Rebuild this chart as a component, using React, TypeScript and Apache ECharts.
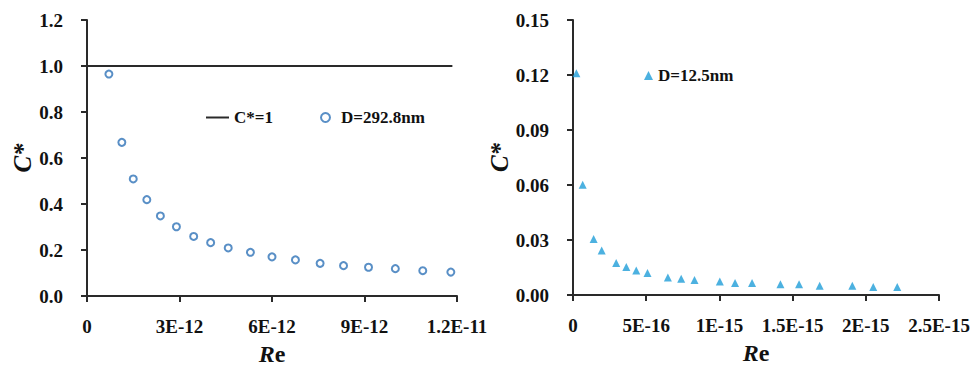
import React, { useEffect, useRef } from "react";
import * as echarts from "echarts";

// Left panel: D = 292.8 nm
const leftRe = [0.71e-12, 1.13e-12, 1.5e-12, 1.94e-12, 2.38e-12, 2.9e-12, 3.46e-12, 4.01e-12, 4.58e-12, 5.3e-12, 6.0e-12, 6.76e-12, 7.56e-12, 8.32e-12, 9.13e-12, 10.0e-12, 10.89e-12, 11.8e-12];
const leftC = [0.965, 0.668, 0.509, 0.419, 0.348, 0.301, 0.259, 0.232, 0.209, 0.19, 0.17, 0.157, 0.142, 0.132, 0.125, 0.119, 0.11, 0.104];
const refLineRe = [0, 1.185e-11];
const refLineC = [1, 1];
const leftXTicks = ["0", "3E-12", "6E-12", "9E-12", "1.2E-11"];

// Right panel: D = 12.5 nm
const rightRe = [2.3e-17, 6.6e-17, 1.41e-16, 1.96e-16, 2.95e-16, 3.64e-16, 4.32e-16, 5.09e-16, 6.48e-16, 7.39e-16, 8.3e-16, 10.03e-16, 11.07e-16, 12.23e-16, 14.17e-16, 15.44e-16, 16.85e-16, 19.08e-16, 20.51e-16, 22.15e-16];
const rightC = [0.1209, 0.0602, 0.0305, 0.0243, 0.0175, 0.0153, 0.0134, 0.012, 0.0096, 0.0089, 0.0082, 0.0073, 0.0065, 0.0065, 0.0058, 0.0058, 0.0051, 0.0051, 0.0044, 0.0044];
const rightXTicks = ["0", "5E-16", "1E-15", "1.5E-15", "2E-15", "2.5E-15"];

const FONT = "'Liberation Serif', serif";
const AX = "#2a2a2a";

const axisCommon = {
  axisLine: { show: true, lineStyle: { color: AX, width: 2 } },
  axisTick: { show: true, inside: false, length: 6, lineStyle: { color: AX, width: 2 } },
  splitLine: { show: false },
};

const labelStyle = { color: "#111", fontFamily: FONT, fontWeight: "bold" as const, fontSize: 19 };

const reName = {
  name: "{i|R}{n|e}",
  nameLocation: "middle" as const,
  nameGap: 46,
  nameTextStyle: {
    rich: {
      i: { fontFamily: FONT, fontStyle: "italic", fontWeight: "bold", fontSize: 24, color: "#111" },
      n: { fontFamily: FONT, fontWeight: "bold", fontSize: 24, color: "#111" },
    },
  },
};

const cName = (gap: number) => ({
  name: "C*",
  nameLocation: "middle" as const,
  nameRotate: 90,
  nameGap: gap,
  nameTextStyle: { fontFamily: FONT, fontStyle: "italic", fontWeight: "bold", fontSize: 25, color: "#111" },
});

export default function App() {
  const ref = useRef<HTMLDivElement>(null);
  useEffect(() => {
    if (!ref.current) return;
    const chart = echarts.init(ref.current, undefined, { renderer: "svg" });
    chart.setOption({
      animation: false,
      backgroundColor: "#ffffff",
      grid: [
        { left: 87, top: 20, width: 370, height: 276, outerBoundsMode: "none", containLabel: false },
        { left: 573, top: 20, width: 366, height: 275, outerBoundsMode: "none", containLabel: false },
      ],
      xAxis: [
        {
          type: "value",
          gridIndex: 0,
          min: 0,
          max: 1.2e-11,
          interval: 3e-12,
          ...axisCommon,
          axisLabel: { ...labelStyle, margin: 21, formatter: (_v: number, i: number) => leftXTicks[i] ?? "" },
          ...reName,
        },
        {
          type: "value",
          gridIndex: 1,
          min: 0,
          max: 2.5e-15,
          interval: 5e-16,
          ...axisCommon,
          axisLabel: { ...labelStyle, margin: 21, formatter: (_v: number, i: number) => rightXTicks[i] ?? "" },
          ...reName,
        },
      ],
      yAxis: [
        {
          type: "value",
          gridIndex: 0,
          min: 0,
          max: 1.2,
          interval: 0.2,
          ...axisCommon,
          axisLabel: { ...labelStyle, margin: 24, formatter: (v: number) => v.toFixed(1) },
          ...cName(48),
        },
        {
          type: "value",
          gridIndex: 1,
          min: 0,
          max: 0.15,
          interval: 0.03,
          ...axisCommon,
          axisLabel: { ...labelStyle, margin: 24, formatter: (v: number) => v.toFixed(2) },
          ...cName(44),
        },
      ],
      legend: [
        {
          data: [{ name: "C*=1", icon: "rect" }],
          left: 201,
          top: 104,
          itemWidth: 23,
          itemHeight: 2,
          textStyle: { fontFamily: FONT, fontWeight: "bold", fontSize: 17, color: "#111" },
        },
        {
          data: ["D=292.8nm"],
          left: 315,
          top: 104,
          itemWidth: 9,
          itemHeight: 9,
          textStyle: { fontFamily: FONT, fontWeight: "bold", fontSize: 17, color: "#111", padding: [0, 0, 0, 6] },
        },
        {
          data: ["D=12.5nm"],
          left: 639,
          top: 62,
          itemWidth: 9,
          itemHeight: 9,
          textStyle: { fontFamily: FONT, fontWeight: "bold", fontSize: 17, color: "#111" },
        },
      ],
      series: [
        {
          name: "C*=1",
          type: "line",
          xAxisIndex: 0,
          yAxisIndex: 0,
          data: refLineRe.map((x, i) => [x, refLineC[i]]),
          symbol: "none",
          lineStyle: { color: AX, width: 2 },
          itemStyle: { color: AX },
        },
        {
          name: "D=292.8nm",
          type: "scatter",
          xAxisIndex: 0,
          yAxisIndex: 0,
          data: leftRe.map((x, i) => [x, leftC[i]]),
          symbol: "emptyCircle",
          symbolSize: 7,
          itemStyle: { color: "#2f73b8", borderColor: "#2f73b8", borderWidth: 2.5 },
        },
        {
          name: "D=12.5nm",
          type: "scatter",
          xAxisIndex: 1,
          yAxisIndex: 1,
          data: rightRe.map((x, i) => [x, rightC[i]]),
          symbol: "triangle",
          symbolSize: 8,
          itemStyle: { color: "#1f9ed8" },
        },
      ],
    });
    return () => chart.dispose();
  }, []);
  return (
    <div
      ref={ref}
      style={{ position: "fixed", left: 0, top: 0, width: 974, height: 366, background: "#fff" }}
    />
  );
}
